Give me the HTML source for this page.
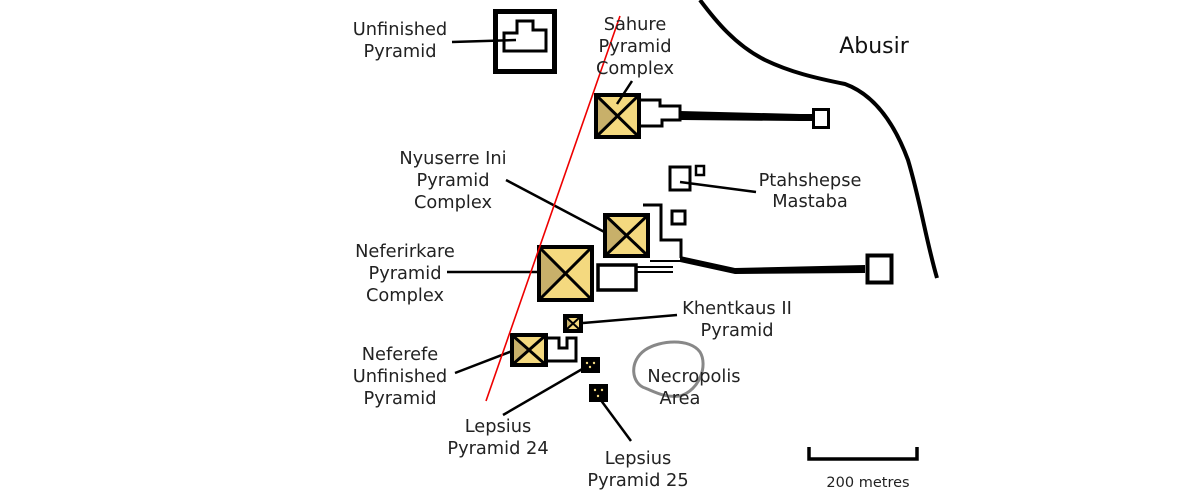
<!DOCTYPE html>
<html><head><meta charset="utf-8"><style>
html,body{margin:0;padding:0;background:#fff;width:1200px;height:500px;overflow:hidden}
svg text{font-family:"DejaVu Sans","Liberation Sans",sans-serif;font-size:17.8px;fill:#222;text-anchor:middle}
</style></head><body>
<svg width="1200" height="500" viewBox="0 0 1200 500" xmlns="http://www.w3.org/2000/svg">
<defs>
<g id="pyr">
<rect x="0" y="0" width="1" height="1" fill="#f4d97f"/>
<polygon points="0,0 0.5,0.5 0,1" fill="#c8b06a"/>
</g>
</defs>
<path d="M700,0 C715,20 735,45 765,60 C790,72 815,78 845,84 C875,95 895,125 908,160 C920,200 926,240 937,278" fill="none" stroke="#000" stroke-width="4"/>
<rect x="495.5" y="11.5" width="59" height="60" fill="none" stroke="#000" stroke-width="5"/>
<polygon points="504,33 517,33 517,21 533,21 533,30 546,30 546,51 504,51" fill="none" stroke="#000" stroke-width="3"/>
<line x1="452" y1="42" x2="516" y2="40" stroke="#000" stroke-width="2.5"/>
<polygon points="638,100 660,100 660,106 680,106 680,120 662,120 662,126 638,126" fill="#fff" stroke="#000" stroke-width="3"/>
<polygon points="680,111 800,114 812,114 812,121 800,121 680,120" fill="#000"/>
<rect x="813.5" y="109.5" width="15" height="18" fill="#fff" stroke="#000" stroke-width="3"/>
<g transform="translate(596,95) scale(43,42)"><use href="#pyr"/></g>
<rect x="596" y="95" width="43" height="42" fill="none" stroke="#000" stroke-width="4"/>
<path d="M596,95 L639,137 M639,95 L596,137" stroke="#000" stroke-width="3"/>
<line x1="632" y1="81" x2="617" y2="104" stroke="#000" stroke-width="2.5"/>
<rect x="670" y="167" width="20" height="23" fill="none" stroke="#000" stroke-width="3"/>
<rect x="696" y="166" width="8" height="9" fill="none" stroke="#000" stroke-width="2.5"/>
<line x1="680" y1="182" x2="756" y2="192" stroke="#000" stroke-width="2.5"/>
<polyline points="643,205 661,205 661,240 681,240 681,258" fill="none" stroke="#000" stroke-width="3"/>
<rect x="672" y="211" width="13" height="13" fill="none" stroke="#000" stroke-width="3"/>
<polygon points="680,256 735,268 865,265 865,273 735,274 680,262" fill="#000"/>
<rect x="867.5" y="255.5" width="24" height="27" fill="#fff" stroke="#000" stroke-width="4"/>
<line x1="506" y1="180" x2="612" y2="236" stroke="#000" stroke-width="2.5"/>
<g transform="translate(605,215) scale(43,41)"><use href="#pyr"/></g>
<rect x="605" y="215" width="43" height="41" fill="none" stroke="#000" stroke-width="4"/>
<path d="M605,215 L648,256 M648,215 L605,256" stroke="#000" stroke-width="3"/>
<rect x="598" y="265" width="38" height="25" fill="#fff" stroke="#000" stroke-width="3.5"/>
<path d="M636,267 L673,267 M636,272 L673,272" stroke="#000" stroke-width="2"/>
<line x1="650" y1="261" x2="680" y2="261" stroke="#000" stroke-width="2"/>
<line x1="447" y1="272" x2="548" y2="272" stroke="#000" stroke-width="2.5"/>
<g transform="translate(539,247) scale(53,53)"><use href="#pyr"/></g>
<rect x="539" y="247" width="53" height="53" fill="none" stroke="#000" stroke-width="4"/>
<path d="M539,247 L592,300 M592,247 L539,300" stroke="#000" stroke-width="3"/>
<rect x="563" y="314" width="20" height="19" fill="#000"/>
<g transform="translate(567,318) scale(12,11)"><use href="#pyr"/></g>
<path d="M567,318 L579,329 M579,318 L567,329" stroke="#000" stroke-width="2"/>
<line x1="583" y1="323" x2="677" y2="315" stroke="#000" stroke-width="2.5"/>
<polygon points="546,338 559,338 559,348 567,348 567,338 576,338 576,361 546,361" fill="#fff" stroke="#000" stroke-width="3"/>
<line x1="455" y1="373" x2="520" y2="348" stroke="#000" stroke-width="2.5"/>
<g transform="translate(512,335) scale(34,30)"><use href="#pyr"/></g>
<rect x="512" y="335" width="34" height="30" fill="none" stroke="#000" stroke-width="4"/>
<path d="M512,335 L546,365 M546,335 L512,365" stroke="#000" stroke-width="3"/>
<rect x="581" y="357" width="19" height="16" fill="#000"/>
<circle cx="587" cy="363" r="1.2" fill="#f4d97f"/><circle cx="594" cy="363" r="1.2" fill="#f4d97f"/><circle cx="590" cy="367" r="1.2" fill="#f4d97f"/>
<line x1="503" y1="415" x2="584" y2="368" stroke="#000" stroke-width="2.5"/>
<rect x="589" y="384" width="19" height="18" fill="#000"/>
<circle cx="595" cy="390" r="1.2" fill="#f4d97f"/><circle cx="602" cy="390" r="1.2" fill="#f4d97f"/><circle cx="598" cy="396" r="1.2" fill="#f4d97f"/>
<line x1="600" y1="399" x2="631" y2="441" stroke="#000" stroke-width="2.5"/>
<line x1="620" y1="16" x2="486" y2="401" stroke="#e00" stroke-width="1.6"/>
<path d="M645,350 C660,340 690,338 700,352 C708,365 700,390 680,396 C665,398 655,392 645,388 C632,384 628,362 645,350 Z" fill="none" stroke="#888" stroke-width="3"/>
<path d="M809,447 L809,459 L917,459 L917,447" fill="none" stroke="#000" stroke-width="3.5"/>
<text x="868" y="487" style="font-size:14.5px">200 metres</text>
<text x="874" y="53" style="font-size:22px;fill:#111">Abusir</text>
<text x="400" y="35">Unfinished</text><text x="400" y="57">Pyramid</text>
<text x="635" y="30">Sahure</text><text x="635" y="52">Pyramid</text><text x="635" y="74">Complex</text>
<text x="810" y="186">Ptahshepse</text><text x="810" y="207">Mastaba</text>
<text x="453" y="164">Nyuserre Ini</text><text x="453" y="186">Pyramid</text><text x="453" y="208">Complex</text>
<text x="405" y="257">Neferirkare</text><text x="405" y="279">Pyramid</text><text x="405" y="301">Complex</text>
<text x="737" y="314">Khentkaus II</text><text x="737" y="336">Pyramid</text>
<text x="400" y="360">Neferefe</text><text x="400" y="382">Unfinished</text><text x="400" y="404">Pyramid</text>
<text x="694" y="382">Necropolis</text><text x="680" y="404">Area</text>
<text x="498" y="432">Lepsius</text><text x="498" y="454">Pyramid 24</text>
<text x="638" y="464">Lepsius</text><text x="638" y="486">Pyramid 25</text>
</svg>
</body></html>
